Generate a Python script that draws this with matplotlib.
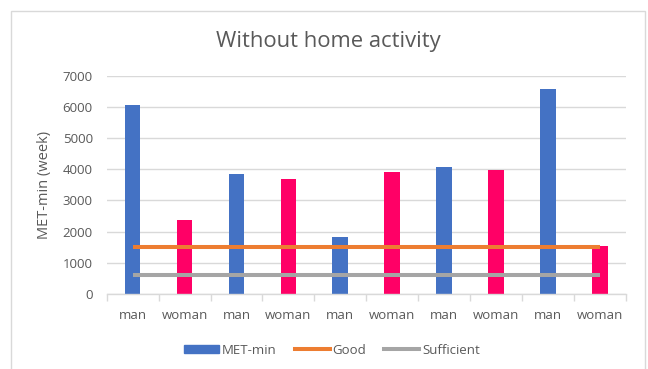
import matplotlib.pyplot as plt
import numpy as np
from matplotlib.patches import Rectangle
from matplotlib.lines import Line2D
from matplotlib.patches import Patch

# Valores
categories = ["man", "woman", "man", "woman", "man", "woman", "man", "woman", "man", "woman"]
met_min = [6060, 2380, 3850, 3690, 1820, 3920, 4060, 3990, 6570, 1550]
good = [1500] * 10
sufficient = [600] * 10
y_ticks = [0, 1000, 2000, 3000, 4000, 5000, 6000, 7000]

BLUE = "#4472C4"
PINK = "#FF0066"
ORANGE = "#ED7D31"
GRAY = "#A5A5A5"
TEXT = "#595959"

plt.rcParams["font.family"] = ["Open Sans", "DejaVu Sans"]

fig = plt.figure(figsize=(6.48, 3.69), dpi=100)
ax = fig.add_axes([0.1647, 0.2033, 0.8009, 0.5916])

x = np.arange(len(categories))
bar_colors = [BLUE if c == "man" else PINK for c in categories]
ax.bar(x, met_min, width=0.3, color=bar_colors, zorder=2)
ax.plot(x, good, color=ORANGE, linewidth=2.9, solid_capstyle="butt", zorder=3)
ax.plot(x, sufficient, color=GRAY, linewidth=2.9, solid_capstyle="butt", zorder=3)

ax.set_xlim(-0.5, len(categories) - 0.5)
ax.set_ylim(0, 7000)
ax.set_yticks(y_ticks)
ax.set_yticklabels([str(v) for v in y_ticks], fontsize=9.5, color=TEXT)
ax.tick_params(axis="y", length=0, pad=10)
ax.set_xticks(x)
ax.set_xticklabels(categories, fontsize=9.5, color=TEXT)
ax.tick_params(axis="x", length=0, pad=11)
# marcas entre categorías
ax.set_xticks(np.arange(len(categories) + 1) - 0.5, minor=True)
ax.tick_params(axis="x", which="minor", length=5, color="#D9D9D9", width=1)

ax.grid(axis="y", color="#D9D9D9", linewidth=1, zorder=0)
for side in ("top", "right", "left"):
    ax.spines[side].set_visible(False)
ax.spines["bottom"].set_color("#D9D9D9")
ax.spines["bottom"].set_linewidth(1)

ax.set_ylabel("MET-min (week)", fontsize=10.5, color=TEXT, labelpad=8)
fig.text(328 / 648, 1 - 41 / 369, "Without home activity", fontsize=15.8,
         color=TEXT, ha="center", va="center")

handles = [
    Patch(color=BLUE, label="MET-min"),
    Line2D([0], [0], color=ORANGE, linewidth=2.9, label="Good"),
    Line2D([0], [0], color=GRAY, linewidth=2.9, label="Sufficient"),
]
fig.legend(handles=handles, loc="center", bbox_to_anchor=(332 / 648, 1 - 350 / 369),
           ncol=3, frameon=False, fontsize=9.5, labelcolor=TEXT, handlelength=2.65,
           handletextpad=0.23, columnspacing=1.36, handleheight=0.53)

fig.patches.append(Rectangle((11 / 648, -0.1), 634 / 648, 1.1 - 11 / 369,
                             transform=fig.transFigure, fill=False,
                             edgecolor="#D9D9D9", linewidth=1))

fig.savefig("out.png", dpi=100)
